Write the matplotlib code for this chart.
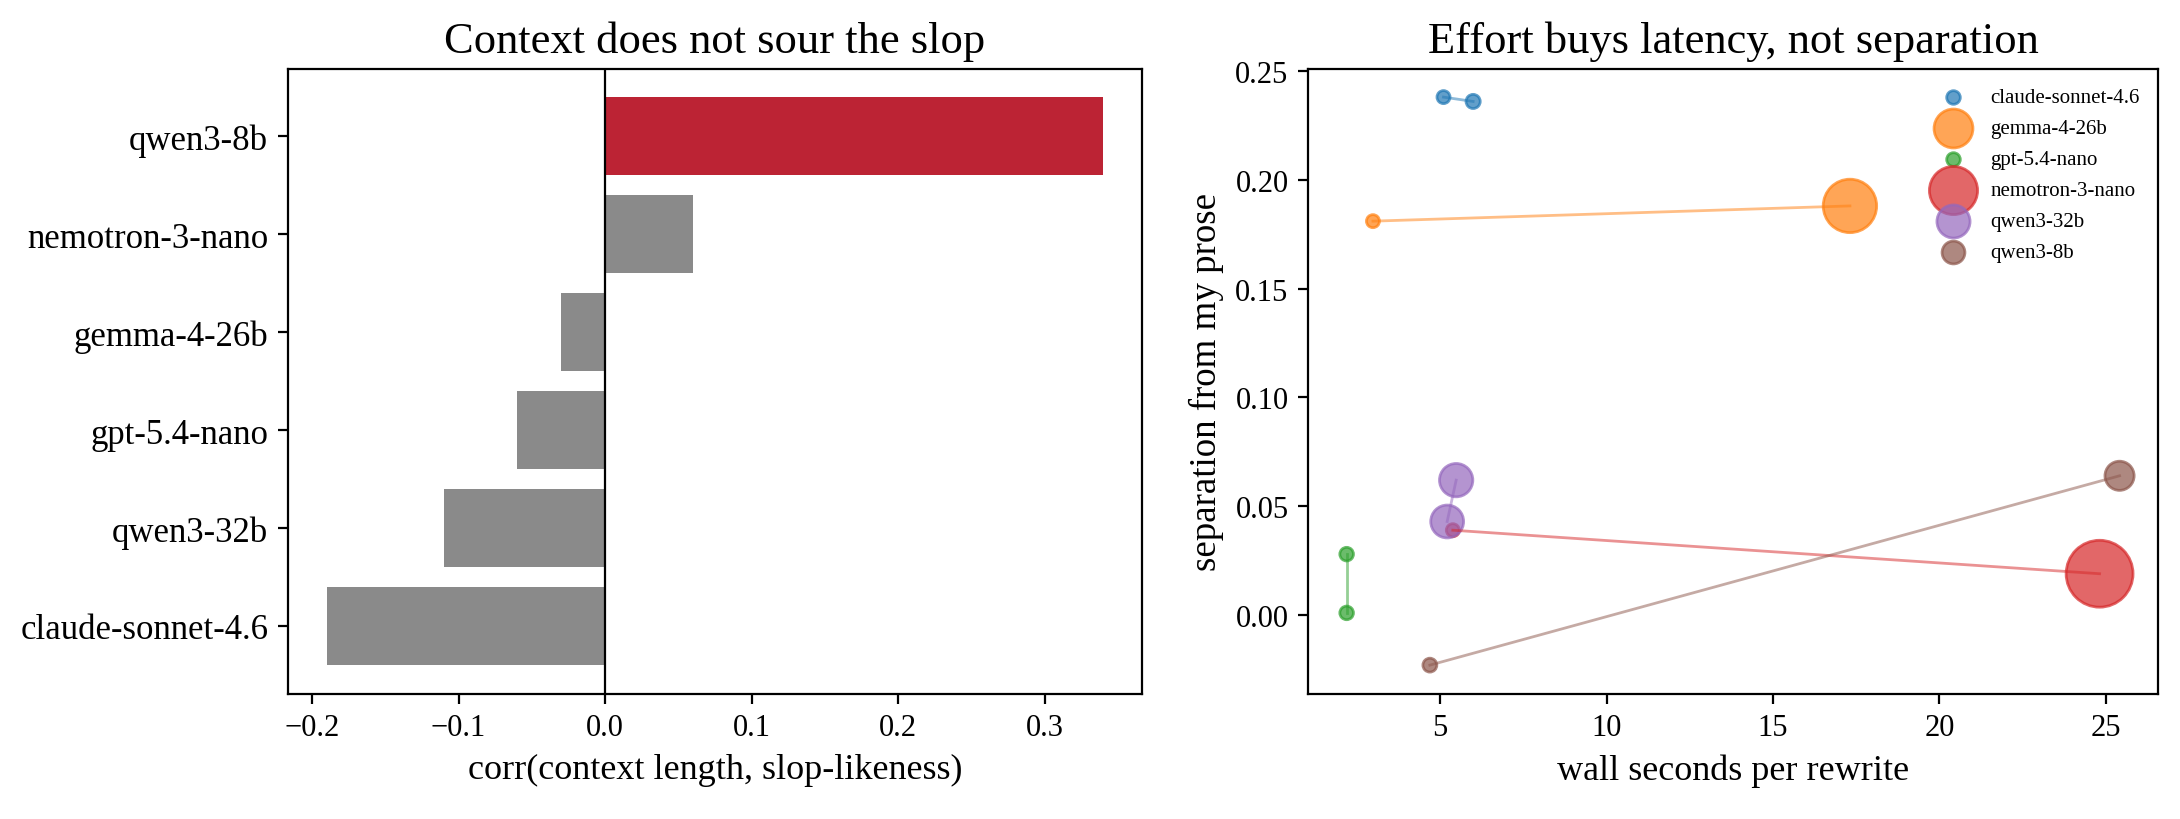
import matplotlib
matplotlib.use("Agg")
import matplotlib.pyplot as plt

plt.rcParams["font.family"] = ["Liberation Serif", "DejaVu Serif"]

# left panel: correlation of context length with slop-likeness
bar_models = ["claude-sonnet-4.6", "qwen3-32b", "gpt-5.4-nano", "gemma-4-26b",
              "nemotron-3-nano", "qwen3-8b"]
bar_corr = [-0.19, -0.11, -0.06, -0.03, 0.06, 0.34]

# right panel: low effort vs high effort for each model
models = ["claude-sonnet-4.6", "gemma-4-26b", "gpt-5.4-nano",
          "nemotron-3-nano", "qwen3-32b", "qwen3-8b"]
wall_lo = [5.10, 2.98, 2.19, 5.38, 5.48, 4.69]
wall_hi = [5.99, 17.31, 2.19, 24.81, 5.21, 25.41]
sep_lo = [0.238, 0.181, 0.028, 0.039, 0.062, -0.023]
sep_hi = [0.236, 0.188, 0.001, 0.019, 0.043, 0.064]
size_lo = [22, 22, 24, 22, 144, 25]
size_hi = [26, 370, 24, 580, 140, 110]

colors = ["C0", "C1", "C2", "C3", "C4", "C5"]

fig = plt.figure(figsize=(10.9, 4.1), dpi=200)
ax1 = fig.add_axes([0.132, 0.153, 0.392, 0.762])
ax2 = fig.add_axes([0.600, 0.153, 0.390, 0.762])

bar_colors = ["#bc2334" if v == max(bar_corr) else "#8a8a8a" for v in bar_corr]
ax1.barh(bar_models, bar_corr, color=bar_colors, height=0.8)
ax1.axvline(0, color="black", linewidth=0.8)
ax1.set_xlabel("corr(context length, slop-likeness)", fontsize=13)
ax1.set_title("Context does not sour the slop", fontsize=16)
ax1.tick_params(labelsize=11)
ax1.tick_params(axis="y", labelsize=12.5)

for i, m in enumerate(models):
    ax2.plot([wall_lo[i], wall_hi[i]], [sep_lo[i], sep_hi[i]],
             color=colors[i], alpha=0.5, linewidth=1)
    ax2.scatter([wall_lo[i], wall_hi[i]], [sep_lo[i], sep_hi[i]],
                s=[size_lo[i], size_hi[i]], color=colors[i], alpha=0.7, label=m)

ax2.set_xlabel("wall seconds per rewrite", fontsize=13)
ax2.set_ylabel("separation from my prose", fontsize=13.3)
ax2.set_title("Effort buys latency, not separation", fontsize=16)
ax2.tick_params(labelsize=11)
ax2.legend(loc="upper right", fontsize=7.5, frameon=False, labelspacing=0.55)

fig.savefig("out.png", dpi=200)
